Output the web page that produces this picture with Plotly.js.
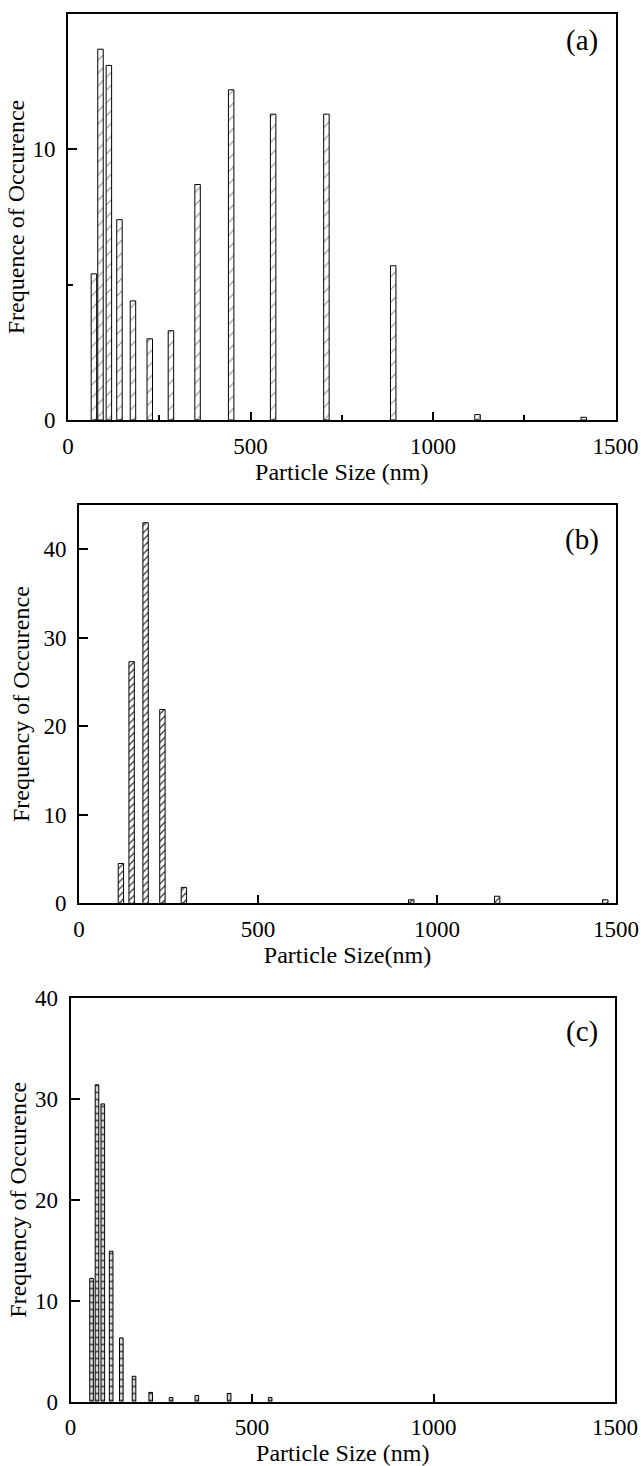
<!DOCTYPE html>
<html>
<head>
<meta charset="utf-8">
<script src="https://cdn.plot.ly/plotly-3.0.1.min.js"></script>
<style>
  html, body { margin: 0; padding: 0; background: #fff; }
  #chart { width: 641px; height: 1466px; }
</style>
</head>
<body>
<div id="chart"></div>
<script>
// ---- Data ----
const sizesA = [71, 89, 112, 141, 178, 224, 282, 355, 447, 562, 708, 891, 1122, 1413];
const freqA  = [5.4, 13.7, 13.1, 7.4, 4.4, 3.0, 3.3, 8.7, 12.2, 11.3, 11.3, 5.7, 0.2, 0.1];

const sizesB = [117, 147, 186, 233, 293, 928, 1168, 1470];
const freqB  = [4.5, 27.3, 43.0, 21.9, 1.8, 0.4, 0.8, 0.4];

const sizesC = [58, 73, 89, 112, 140, 175, 221, 277, 348, 437, 550];
const freqC  = [12.2, 31.4, 29.5, 14.9, 6.3, 2.5, 0.9, 0.4, 0.6, 0.8, 0.4];

const xTicks = [0, 500, 1000, 1500];
const panelLabels = ['(a)', '(b)', '(c)'];
const xTitles = ['Particle Size (nm)', 'Particle Size(nm)', 'Particle Size (nm)'];
const yTitles = ['Frequence of Occurence', 'Frequency of Occurence', 'Frequency of Occurence'];

// ---- Styling ----
const FONT = 'Liberation Serif, Times New Roman, serif';
const W = 641, H = 1466;

const traces = [
  {
    type: 'bar', x: sizesA, y: freqA, xaxis: 'x', yaxis: 'y', width: 15,
    marker: { color: '#ffffff', line: { color: '#000', width: 1 },
      pattern: { shape: '/', fgcolor: '#8a8a8a', bgcolor: '#ffffff', size: 9, solidity: 0.12 } },
    showlegend: false, hoverinfo: 'x+y'
  },
  {
    type: 'bar', x: sizesB, y: freqB, xaxis: 'x2', yaxis: 'y2', width: 15,
    marker: { color: '#ffffff', line: { color: '#000', width: 1 },
      pattern: { shape: '/', fgcolor: '#333333', bgcolor: '#ffffff', size: 5, solidity: 0.25 } },
    showlegend: false, hoverinfo: 'x+y'
  },
  {
    type: 'bar', x: sizesC, y: freqC, xaxis: 'x3', yaxis: 'y3', width: 10,
    marker: { color: '#d6d6d6', line: { color: '#000', width: 1 },
      pattern: { shape: '-', fgcolor: '#555555', bgcolor: '#d9d9d9', size: 7, solidity: 0.25 } },
    showlegend: false, hoverinfo: 'x+y'
  }
];

function px(a, b) { return [a / W, b / W]; }
function py(top, bottom) { return [1 - bottom / H, 1 - top / H]; }

function xAxis(domain, anchor, title, minor) {
  const ax = {
    domain: domain, anchor: anchor, range: [0, 1500],
    tickvals: xTicks, ticktext: xTicks.map(String),
    ticks: 'inside', ticklen: 8, tickwidth: 2, tickcolor: '#000',
    showline: true, linewidth: 2, linecolor: '#000', mirror: true,
    showgrid: false, zeroline: false, automargin: false,
    tickfont: { family: FONT, size: 23, color: '#000' },
    ticklabelstandoff: 4,
    title: { text: title, font: { family: FONT, size: 24, color: '#000' }, standoff: 4 }
  };
  if (minor) ax.minor = { ticks: 'inside', ticklen: 5, tickwidth: 2, tickcolor: '#000', tickvals: [250, 750, 1250], showgrid: false };
  return ax;
}

function yAxis(domain, anchor, range, dtick, title, minor, standoff) {
  const ax = {
    domain: domain, anchor: anchor, range: range,
    tick0: 0, dtick: dtick,
    ticks: 'inside', ticklen: 9, tickwidth: 2, tickcolor: '#000',
    showline: true, linewidth: 2, linecolor: '#000', mirror: true,
    showgrid: false, zeroline: false, automargin: false,
    tickfont: { family: FONT, size: 23, color: '#000' },
    ticklabelstandoff: 6,
    title: { text: title, font: { family: FONT, size: 24, color: '#000' }, standoff: standoff }
  };
  if (minor) ax.minor = { ticks: 'inside', ticklen: 5, tickwidth: 2, tickcolor: '#000', tickvals: [5], showgrid: false };
  return ax;
}

const layout = {
  width: W, height: H,
  margin: { l: 0, r: 0, t: 0, b: 0 },
  paper_bgcolor: '#fff', plot_bgcolor: '#fff',
  bargap: 0,
  font: { family: FONT, color: '#000' },
  xaxis:  xAxis(px(68, 615.5), 'y',  xTitles[0], true),
  yaxis:  yAxis(py(14, 420),   'x',  [0, 15], 10, yTitles[0], true, 1),
  xaxis2: xAxis(px(79, 616),   'y2', xTitles[1], false),
  yaxis2: yAxis(py(505, 903.3),'x2', [0, 45], 10, yTitles[1], false, 7),
  xaxis3: xAxis(px(70.5, 615), 'y3', xTitles[2], false),
  yaxis3: yAxis(py(998, 1401.5),'x3', [0, 40], 10, yTitles[2], false, 2),
  annotations: [
    { text: panelLabels[0], xref: 'paper', yref: 'paper', x: 582 / W, y: 1 - 40.5 / H, xanchor: 'center', yanchor: 'middle', showarrow: false, font: { family: FONT, size: 29, color: '#000' } },
    { text: panelLabels[1], xref: 'paper', yref: 'paper', x: 582 / W, y: 1 - 539.5 / H, xanchor: 'center', yanchor: 'middle', showarrow: false, font: { family: FONT, size: 29, color: '#000' } },
    { text: panelLabels[2], xref: 'paper', yref: 'paper', x: 582 / W, y: 1 - 1031 / H, xanchor: 'center', yanchor: 'middle', showarrow: false, font: { family: FONT, size: 29, color: '#000' } }
  ]
};

Plotly.newPlot('chart', traces, layout, { displayModeBar: false, staticPlot: true });
</script>
</body>
</html>
